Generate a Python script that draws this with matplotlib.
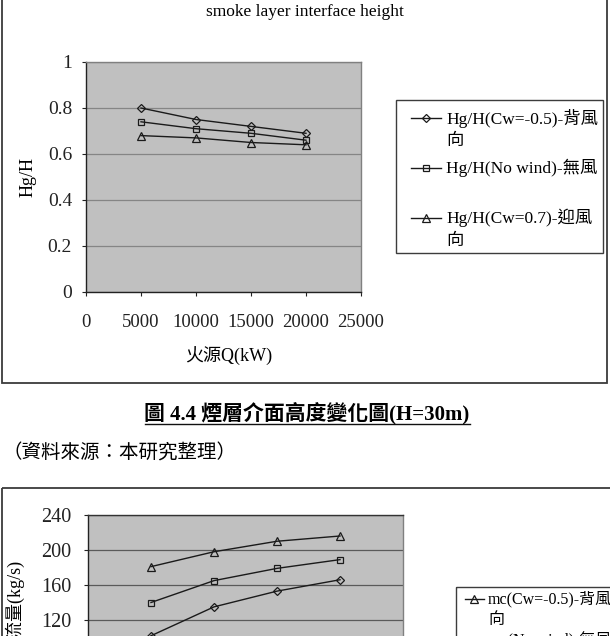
import matplotlib
matplotlib.use("Agg")
import matplotlib.pyplot as plt
from matplotlib.patches import Rectangle

# === Canvas ===
W, H = 610, 636
FONT = ['Liberation Serif', 'Noto Sans CJK TC']
plt.rcParams['font.family'] = FONT

# === Data ===
Q = [5000, 10000, 15000, 20000]

hg_back = [0.80, 0.75, 0.72, 0.69]     # Cw=-0.5
hg_nowind = [0.74, 0.71, 0.69, 0.66]   # no wind
hg_front = [0.68, 0.67, 0.65, 0.64]    # Cw=0.7

mc_back = [181, 198, 210, 216]
mc_nowind = [140, 165, 179, 189]
mc_front = [102, 135, 153, 166]

hg_ticks = [0, 0.2, 0.4, 0.6, 0.8, 1]
hg_tick_labels = ['0', '0.2', '0.4', '0.6', '0.8', '1']
q_ticks = [0, 5000, 10000, 15000, 20000, 25000]
mc_ticks = [0, 40, 80, 120, 160, 200, 240]

LINE = '#1a1a1a'
STYLES = [dict(marker='D', ms=4.5), dict(marker='s', ms=5), dict(marker='^', ms=5.5)]


def px_rect(x0, y0, x1, y1):
    return [x0 / W, 1 - y1 / H, (x1 - x0) / W, (y1 - y0) / H]


def style_axes(ax, grid_color):
    ax.set_facecolor('#c0c0c0')
    ax.yaxis.grid(True, color=grid_color, lw=0.9)
    ax.set_axisbelow(True)
    for side in ['left', 'bottom']:
        ax.spines[side].set_color('#222222')
        ax.spines[side].set_linewidth(1.0)
    for side in ['top', 'right']:
        ax.spines[side].set_color('#808080')
        ax.spines[side].set_linewidth(1.0)
    ax.tick_params(direction='out', length=3, width=0.8, colors='#222222')


def series(ax, y, st):
    ax.plot(Q, y, color=LINE, lw=1.0, mfc='none', mec=LINE, mew=0.9,
            clip_on=False, **st)


fig = plt.figure(figsize=(W / 100, H / 100), dpi=100)

# ---- chart 1: Hg/H ----
ax1 = fig.add_axes(px_rect(86, 62, 361, 292))
style_axes(ax1, '#858585')
ax1.set_xlim(0, 25000)
ax1.set_ylim(0, 1)
ax1.set_xticks(q_ticks)
ax1.set_xticklabels([str(t) for t in q_ticks], fontsize=13.5)
ax1.set_yticks(hg_ticks)
ax1.set_yticklabels(hg_tick_labels, fontsize=14)
ax1.tick_params(axis='x', pad=13)
ax1.tick_params(axis='y', pad=7)
for y, st in zip([hg_back, hg_nowind, hg_front], STYLES):
    series(ax1, y, st)

# ---- chart 2: mass flow (cut off at the bottom of the page) ----
ax2 = fig.add_axes(px_rect(88, 515, 403, 725))
style_axes(ax2, '#5a5a5a')
ax2.spines['top'].set_color('#333333')
ax2.set_xlim(0, 25000)
ax2.set_ylim(0, 240)
ax2.set_xticks(q_ticks)
ax2.tick_params(axis='x', labelbottom=False)
ax2.set_yticks(mc_ticks[3:])
ax2.set_yticklabels([str(t) for t in mc_ticks[3:]], fontsize=14.5)
ax2.tick_params(axis='y', pad=9)
for y, st in zip([mc_back, mc_nowind, mc_front], [STYLES[2], STYLES[1], STYLES[0]]):
    series(ax2, y, st)

# ---- page overlay in pixel coordinates ----
ov = fig.add_axes([0, 0, 1, 1])
ov.set_xlim(0, W)
ov.set_ylim(H, 0)
ov.axis('off')
ov.patch.set_visible(False)

# outer frames
ov.add_patch(Rectangle((2, -10), 605, 393, fill=False, ec='#3c3c3c', lw=1.3))
ov.add_patch(Rectangle((2, 488), 620, 200, fill=False, ec='#3c3c3c', lw=1.3))

# chart 1 texts
ov.text(305, 12, 'smoke layer interface height', ha='center', va='center', fontsize=12.5)
ov.text(28, 177, 'Hg/H', ha='center', va='center', rotation=90, fontsize=13)
ov.text(229, 356, '火源Q(kW)', ha='center', va='center', fontsize=13)

# chart 1 legend
ov.add_patch(Rectangle((396, 100), 207, 153, fill=False, ec='#3c3c3c', lw=1.0))
leg1 = [('Hg/H(Cw=-0.5)-背風', '向', 118),
        ('Hg/H(No wind)-無風', '', 168),
        ('Hg/H(Cw=0.7)-迎風', '向', 218)]
for (l1, l2, yy), st in zip(leg1, STYLES):
    ov.plot([411, 441], [yy, yy], color=LINE, lw=1.0)
    ov.plot([426], [yy], color=LINE, mfc='none', mec=LINE, mew=0.9, **st)
    ov.text(446, yy, l1, ha='left', va='center', fontsize=12.5)
    if l2:
        ov.text(446, yy + 23, l2, ha='left', va='center', fontsize=12.5)

# caption and source
ov.text(307, 413, '圖 4.4 煙層介面高度變化圖(H=30m)', ha='center', va='center',
        fontsize=15, weight='bold')
ov.plot([145, 470], [424, 424], color='#111111', lw=1.0)
ov.text(2, 453, '（資料來源：本研究整理）', ha='left', va='center', fontsize=14)

# chart 2 texts
ov.text(15, 560, '煙流量(kg/s)', ha='center', va='top', rotation=90, fontsize=13)
ov.add_patch(Rectangle((456, 587), 200, 120, fill=False, ec='#3c3c3c', lw=1.0))
leg2 = [('mc(Cw=-0.5)-背風', '向', 599),
        ('mc(No wind)-無風', '', 641)]
for (l1, l2, yy), st in zip(leg2, [STYLES[2], STYLES[1]]):
    ov.plot([465, 484], [yy, yy], color=LINE, lw=1.0)
    ov.plot([474], [yy], color=LINE, mfc='none', mec=LINE, mew=0.9, **st)
    ov.text(488, yy, l1, ha='left', va='center', fontsize=11.5)
    if l2:
        ov.text(488, yy + 21, l2, ha='left', va='center', fontsize=11.5)

fig.savefig('out.png', dpi=100)
